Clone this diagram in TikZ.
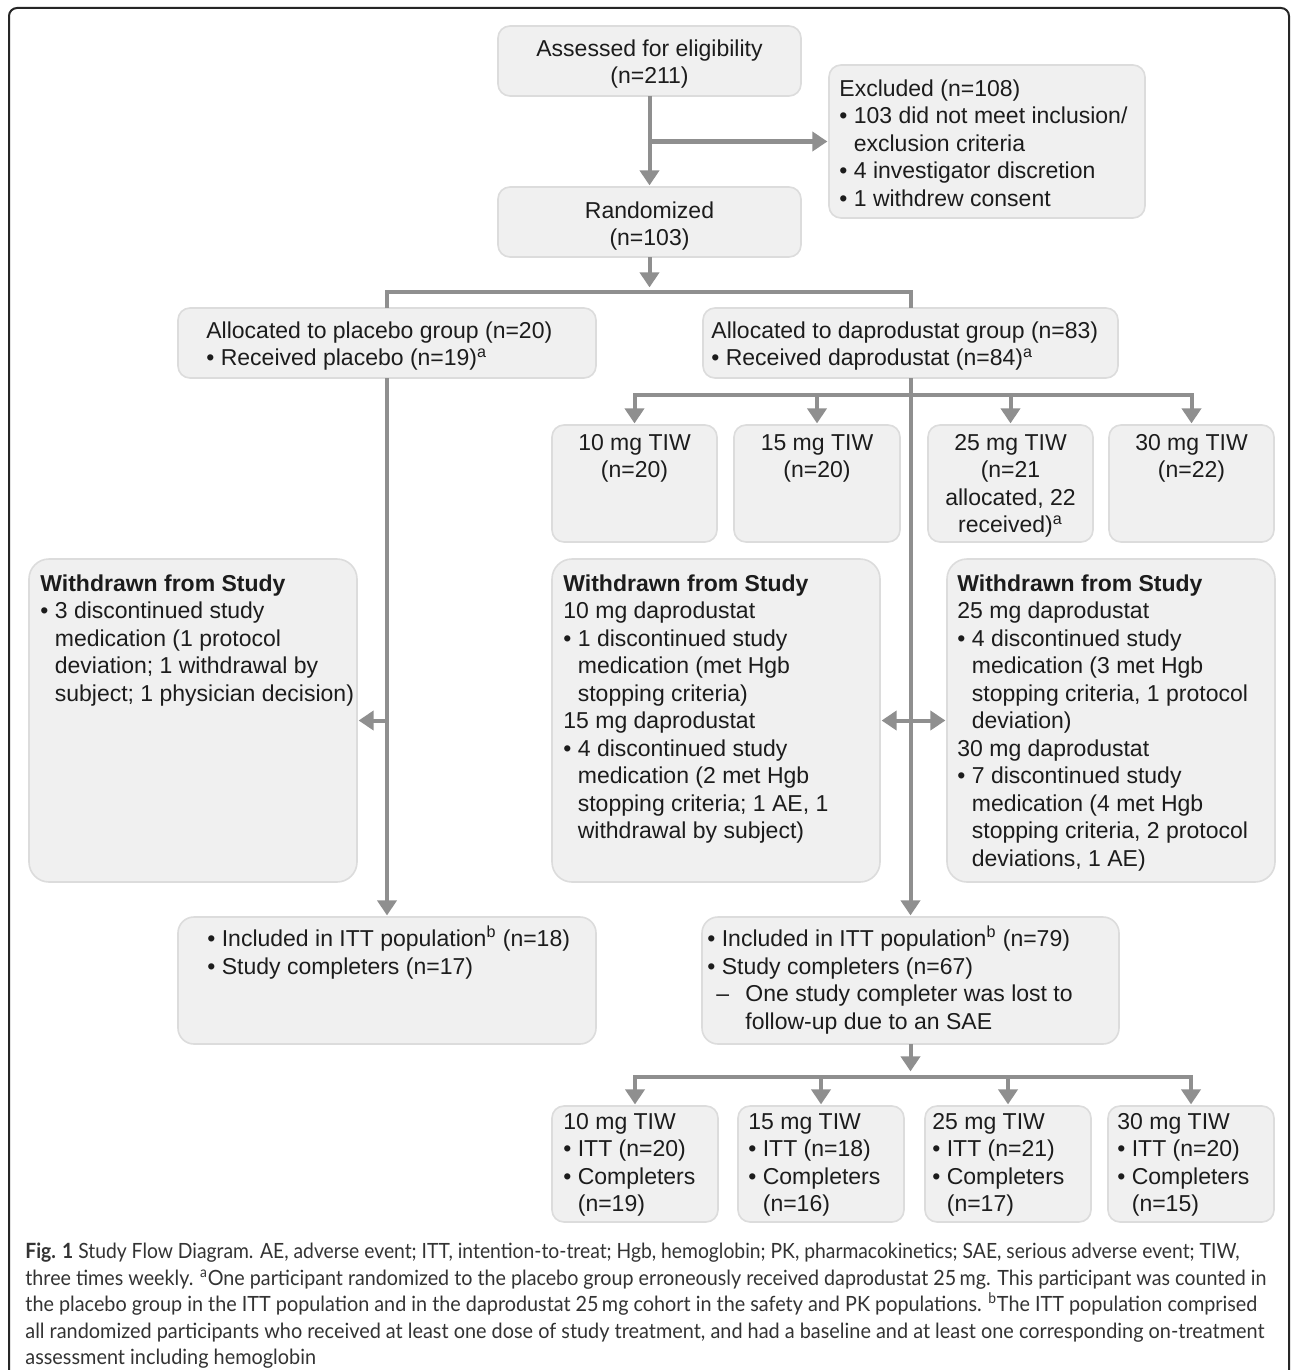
\documentclass[tikz,border=0pt]{standalone}
\usepackage{fontspec}
\setmainfont{Liberation Sans}
\newfontfamily\capfont{Lato}
\usepackage{graphicx}
\usetikzlibrary{arrows.meta}
\definecolor{boxfill}{HTML}{F0F0F0}
\definecolor{boxline}{HTML}{DCDCDC}
\definecolor{connc}{HTML}{8F8F8F}
\definecolor{txtc}{HTML}{1C1C1C}
\definecolor{capc}{HTML}{333333}
\newcommand\bu{\textbullet\ }
\newcommand\hng{\hphantom{\textbullet\ }}
\newlength\capL
\newcommand\capfs{\capfont\fontsize{10.5}{13}\selectfont}
\begin{document}
\settowidth\capL{\capfs all randomized participants who received at least one dose of study treatment, and had a baseline and at least one corresponding on-treatment}
\pgfmathsetmacro\capfac{619.5/\capL}
\begin{tikzpicture}[x=0.5pt,y=-0.5pt,
  box/.style={draw=boxline, line width=0.8pt, fill=boxfill, rounded corners=6pt, inner sep=0pt, outer sep=0pt, anchor=north west},
  tl/.style={anchor=north west, inner sep=0pt, align=left, text=txtc, font=\fontsize{11.5}{13.75}\selectfont},
  tc/.style={tl, anchor=north, align=center},
  ln/.style={draw=connc, line width=2pt},
  arr/.style={ln, -{Triangle[length=7.5pt,width=9.5pt]}, shorten >=0.8pt},
  darr/.style={ln, {Triangle[length=7.5pt,width=9.5pt]}-{Triangle[length=7.5pt,width=9.5pt]}, shorten >=0.8pt, shorten <=0.8pt},
  capn/.style={anchor=base west, inner sep=0pt, text=capc, font=\capfs}]
\useasboundingbox (0,0) rectangle (1292,1370);
\fill[white] (0,0) rectangle (1292,1370);
% frame
\draw[line width=1pt, black!85, rounded corners=4pt] (9,1375) -- (9,8) -- (1289,8) -- (1289,1375);

% boxes
\node[box, minimum width=151.5pt, minimum height=35pt] (assess) at (498,26) {};
\node[box, minimum width=158pt, minimum height=76.5pt] (excl) at (829,65) {};
\node[box, minimum width=151.5pt, minimum height=35pt] (rand) at (498,187) {};
\node[box, minimum width=209pt, minimum height=35pt] (plac) at (178,308) {};
\node[box, minimum width=207.5pt, minimum height=35pt] (dap) at (703,308) {};
\node[box, minimum width=82.5pt, minimum height=58.5pt] (t1) at (552,425) {};
\node[box, minimum width=83pt, minimum height=58.5pt] (t2) at (734,425) {};
\node[box, minimum width=82.5pt, minimum height=58.5pt] (t3) at (928,425) {};
\node[box, minimum width=82.5pt, minimum height=58.5pt] (t4) at (1109,425) {};
\node[box, rounded corners=10pt, minimum width=164pt, minimum height=161.5pt] (w1) at (29,559) {};
\node[box, rounded corners=10pt, minimum width=164pt, minimum height=161.5pt] (w2) at (552,559) {};
\node[box, rounded corners=10pt, minimum width=164pt, minimum height=161.5pt] (w3) at (947,559) {};
\node[box, rounded corners=8pt, minimum width=209pt, minimum height=63.5pt] (i1) at (178,917) {};
\node[box, rounded corners=8pt, minimum width=208.5pt, minimum height=63.5pt] (i2) at (702,917) {};
\node[box, minimum width=83pt, minimum height=58pt] (b1) at (552,1106) {};
\node[box, minimum width=83pt, minimum height=58pt] (b2) at (738,1106) {};
\node[box, minimum width=83pt, minimum height=58pt] (b3) at (925,1106) {};
\node[box, minimum width=83pt, minimum height=58pt] (b4) at (1108,1106) {};

% texts
\node[tc] (ta) at (649.5,36.75) {\strut Assessed for eligibility\\(n=211)};
\node[tl] (tx) at (839,76.75) {\strut Excluded (n=108)\\\bu 103 did not meet inclusion/\\\hng exclusion criteria\\\bu 4 investigator discretion\\\bu 1 withdrew consent};
\node[tc] (tr) at (649.5,198.75) {\strut Randomized\\(n=103)};
\node[tl] (tp) at (206,318.75) {\strut Allocated to placebo group (n=20)\\\bu Received placebo (n=19)\textsuperscript{a}};
\node[tl] (td) at (711,318.75) {\strut Allocated to daprodustat group (n=83)\\\bu Received daprodustat (n=84)\textsuperscript{a}};
\node[tc] (tt1) at (634.5,430.75) {\strut 10 mg TIW\\(n=20)};
\node[tc] (tt2) at (817,430.75) {\strut 15 mg TIW\\(n=20)};
\node[tc] (tt3) at (1010.5,430.75) {\strut 25 mg TIW\\(n=21\\allocated, 22\\received)\textsuperscript{a}};
\node[tc] (tt4) at (1191.5,430.75) {\strut 30 mg TIW\\(n=22)};
\node[tl] (tw1) at (40,571.75) {\strut\textbf{Withdrawn from Study}\\
\bu 3 discontinued study\\
\hng medication (1 protocol\\
\hng deviation; 1 withdrawal by\\
\hng subject; 1 physician decision)};
\node[tl] (tw2) at (563,571.75) {\strut\textbf{Withdrawn from Study}\\
10 mg daprodustat\\
\bu 1 discontinued study\\
\hng medication (met Hgb\\
\hng stopping criteria)\\
15 mg daprodustat\\
\bu 4 discontinued study\\
\hng medication (2 met Hgb\\
\hng stopping criteria; 1 AE, 1\\
\hng withdrawal by subject)};
\node[tl] (tw3) at (957,571.75) {\strut\textbf{Withdrawn from Study}\\
25 mg daprodustat\\
\bu 4 discontinued study\\
\hng medication (3 met Hgb\\
\hng stopping criteria, 1 protocol\\
\hng deviation)\\
30 mg daprodustat\\
\bu 7 discontinued study\\
\hng medication (4 met Hgb\\
\hng stopping criteria, 2 protocol\\
\hng deviations, 1 AE)};
\node[tl] (ti1) at (207,925.75) {\strut\bu Included in ITT population\textsuperscript{b} (n=18)\\\bu Study completers (n=17)};
\node[tl] (ti2) at (707,925.75) {\strut\bu Included in ITT population\textsuperscript{b} (n=79)\\\bu Study completers (n=67)\\
\makebox[19pt][l]{\hspace{4.5pt}–}One study completer was lost to\\
\hspace*{19pt}follow-up due to an SAE};
\node[tl] (tb1) at (563,1109.75) {\strut 10 mg TIW\\\bu ITT (n=20)\\\bu Completers\\\hng (n=19)};
\node[tl] (tb2) at (748,1109.75) {\strut 15 mg TIW\\\bu ITT (n=18)\\\bu Completers\\\hng (n=16)};
\node[tl] (tb3) at (932,1109.75) {\strut 25 mg TIW\\\bu ITT (n=21)\\\bu Completers\\\hng (n=17)};
\node[tl] (tb4) at (1117,1109.75) {\strut 30 mg TIW\\\bu ITT (n=20)\\\bu Completers\\\hng (n=15)};

% connectors
\draw[arr] (assess.south) -- (rand.north);
\draw[arr] (assess.south |- excl.west) -- (excl.west);
\coordinate (rsplit) at (649.5,292);
\coordinate (rtip) at (649.5,289);
\draw[arr] (rand.south) -- (rtip);
\draw[ln] (plac.north) |- (rsplit) -| (dap.north);
\draw[arr] (plac.south) -- (i1.north);
\draw[arr] (plac.south |- w1.east) -- (w1.east);
\draw[arr] (dap.south) -- (i2.north);
\draw[darr] (w2.east) -- (w3.west);
\coordinate (dsplit) at (910.5,395);
\draw[arr] (dsplit) -| (t1.north);
\draw[arr] (dsplit) -| (t4.north);
\draw[arr] (t2.north |- dsplit) -- (t2.north);
\draw[arr] (t3.north |- dsplit) -- (t3.north);
\coordinate (bsplit) at (910.5,1077);
\coordinate (btip) at (910.5,1073);
\draw[arr] (i2.south) -- (btip);
\draw[arr] (bsplit) -| (b1.north);
\draw[arr] (bsplit) -| (b4.north);
\draw[arr] (b2.north |- bsplit) -- (b2.north);
\draw[arr] (b3.north |- bsplit) -- (b3.north);

% caption
\node[capn] (cap1) at (25,1258.5) {\resizebox{607pt}{\height}{\textbf{Fig. 1} Study Flow Diagram. AE, adverse event; ITT, intention-to-treat; Hgb, hemoglobin; PK, pharmacokinetics; SAE, serious adverse event; TIW,}};
\node[capn] (cap2) at (25,1285) {\resizebox{620.5pt}{\height}{three times weekly. \textsuperscript{a}One participant randomized to the placebo group erroneously received daprodustat 25\,mg. This participant was counted in}};
\node[capn] (cap3) at (25,1311.5) {\resizebox{616pt}{\height}{the placebo group in the ITT population and in the daprodustat 25\,mg cohort in the safety and PK populations. \textsuperscript{b}The ITT population comprised}};
\node[capn] (cap4) at (25,1338) {\resizebox{619.5pt}{\height}{all randomized participants who received at least one dose of study treatment, and had a baseline and at least one corresponding on-treatment}};
\node[capn] (cap5) at (25,1364) {\scalebox{\capfac}[1]{assessment including hemoglobin}};
\end{tikzpicture}
\end{document}
